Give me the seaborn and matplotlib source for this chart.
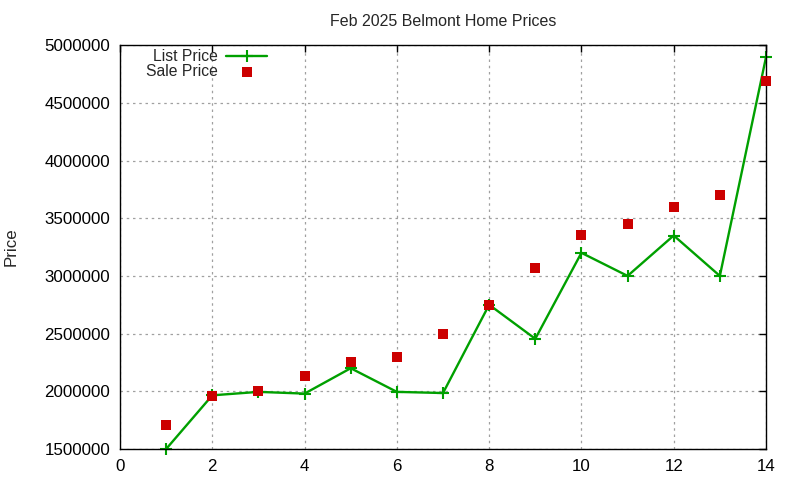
import matplotlib
matplotlib.use("Agg")
import matplotlib.pyplot as plt
import seaborn as sns
import pandas as pd

x_vals = [1, 2, 3, 4, 5, 6, 7, 8, 9, 10, 11, 12, 13, 14]
list_price = [1500000, 1965000, 1995000, 1980000, 2200000, 1995000, 1985000,
              2750000, 2455000, 3200000, 3000000, 3350000, 3000000, 4895000]
sale_price = [1710000, 1960000, 2000000, 2135000, 2255000, 2300000, 2500000,
              2750000, 3070000, 3357000, 3452000, 3600000, 3704000, 4690000]
x_ticks = [0, 2, 4, 6, 8, 10, 12, 14]
y_ticks = [1500000, 2000000, 2500000, 3000000, 3500000, 4000000, 4500000, 5000000]

df = pd.DataFrame({"x": x_vals, "list": list_price, "sale": sale_price})

sns.set_style("white")
plt.rcParams['font.family'] = ['Liberation Sans', 'DejaVu Sans']

fig = plt.figure(figsize=(8, 4.8), dpi=100)
ax = fig.add_axes([0.15, 0.0646, 0.8075, 0.8414])

green = "#00a000"
red = "#cc0000"
sns.lineplot(data=df, x="x", y="list", ax=ax, color=green, linewidth=1.7,
             marker="+", markersize=8, markeredgewidth=1.5, markeredgecolor=green,
             label="List Price", clip_on=False, zorder=2)
sns.scatterplot(data=df, x="x", y="sale", ax=ax, color=red, marker="s", s=42,
                linewidth=0, label="Sale Price", zorder=3, clip_on=False)

ax.set_xlim(0, 14)
ax.set_ylim(1500000, 5000000)
ax.set_xticks(x_ticks)
ax.set_yticks(y_ticks)
ax.set_xticklabels([str(t) for t in x_ticks])
ax.set_yticklabels([str(t) for t in y_ticks])
ax.tick_params(direction="in", length=5, width=1, top=True, right=True,
               labelsize=12.2, colors="black", pad=7)
ax.grid(True, color="#a0a0a0", linestyle=(0, (2, 3)), linewidth=0.9)
for s in ax.spines.values():
    s.set_color("black")
    s.set_linewidth(1)
ax.set_xlabel("")
ax.set_ylabel("Price", fontsize=12.2)
ax.yaxis.set_label_coords(-0.157, 0.5)
ax.set_title("Feb 2025 Belmont Home Prices", fontsize=11.5, pad=14)

leg = ax.legend(loc="upper right", bbox_to_anchor=(0.228, 0.99), frameon=False,
                markerfirst=False, fontsize=11.3, handlelength=2.6,
                handletextpad=0.57, labelspacing=0.0, borderaxespad=0.0,
                borderpad=0.0)

fig.savefig("out.png", dpi=100)
